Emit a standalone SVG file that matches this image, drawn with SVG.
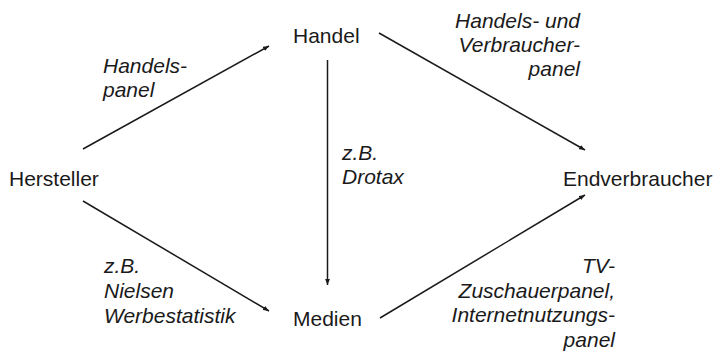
<svg xmlns="http://www.w3.org/2000/svg" width="715" height="353" viewBox="0 0 715 353">
<style>
text{font-family:"Liberation Sans",Arial,sans-serif;font-size:21px;fill:#1a1a1a}
.lbl{font-style:italic}
.r{text-anchor:end}
.c line{stroke:#1a1a1a;stroke-width:1.5;marker-end:url(#ah)}
</style>
<defs>
<marker id="ah" viewBox="0 0 10 8" refX="10" refY="4" markerWidth="6" markerHeight="5" orient="auto" markerUnits="userSpaceOnUse">
<path d="M0,0 L10,4 L0,8 Z" fill="#1a1a1a"/>
</marker>
</defs>
<rect width="715" height="353" fill="#fff"/>
<g id="connectors" class="c">
<line x1="83" y1="149" x2="269" y2="46"/>
<line x1="379" y1="33" x2="585" y2="150"/>
<line x1="327.5" y1="60" x2="327.5" y2="285"/>
<line x1="83" y1="201" x2="269" y2="311"/>
<line x1="380" y1="318" x2="585" y2="195"/>
</g>
<g id="handel"><text x="293" y="43">Handel</text></g>
<g id="hersteller"><text x="9" y="186">Hersteller</text></g>
<g id="medien"><text x="293" y="326">Medien</text></g>
<g id="endverbraucher"><text x="563" y="186">Endverbraucher</text></g>
<g id="labels" class="lbl">
<text class="lbl" x="103" y="73">Handels-</text>
<text class="lbl" x="103" y="97">panel</text>
<text class="lbl r" x="580" y="28">Handels- und</text>
<text class="lbl r" x="580" y="52">Verbraucher-</text>
<text class="lbl r" x="580" y="76">panel</text>
<text class="lbl" x="342" y="160">z.B.</text>
<text class="lbl" x="342" y="184">Drotax</text>
<text class="lbl" x="104" y="273">z.B.</text>
<text class="lbl" x="104" y="298">Nielsen</text>
<text class="lbl" x="104" y="323">Werbestatistik</text>
<text class="lbl r" x="615" y="273">TV-</text>
<text class="lbl r" x="615" y="298">Zuschauerpanel,</text>
<text class="lbl r" x="615" y="322">Internetnutzungs-</text>
<text class="lbl r" x="615" y="347">panel</text>
</g>
</svg>
